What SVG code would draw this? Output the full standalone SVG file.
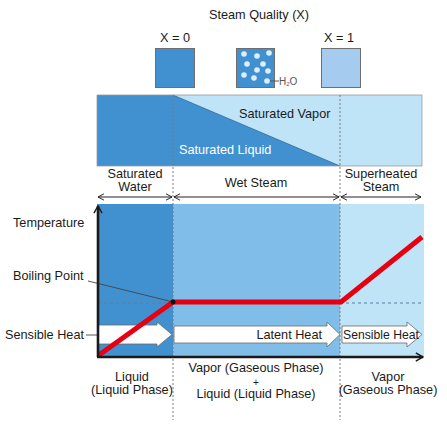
<svg xmlns="http://www.w3.org/2000/svg" width="447" height="425" viewBox="0 0 447 425">
<style>
text{font-family:"Liberation Sans",Arial,sans-serif;font-size:12.7px;fill:#1a1a1a}
.c{text-anchor:middle}
.dark{fill:#4191d1}
.mid{fill:#80bee9}
.light{fill:#bfe4f8}
.sq{stroke:#6e6e6e;stroke-width:1}
.div{stroke:#7a7a7a;stroke-width:1;stroke-dasharray:2,2;fill:none}
.hd{stroke:#5a7fa0;stroke-width:1;stroke-dasharray:3,3;fill:none}
.dim{stroke:#222;stroke-width:1.2;fill:none;marker-start:url(#chev);marker-end:url(#chev)}
.ax{stroke:#1a1a1a;stroke-width:2.6;fill:none}
.harrow{fill:#fff;stroke:#6a6a6a;stroke-width:0.8}
.lead{stroke:#444;stroke-width:0.9;fill:none}
.dot{fill:#dcefff}
</style>
<defs>
<marker id="chev" viewBox="0 0 10 10" refX="9.5" refY="5" markerWidth="7" markerHeight="10" markerUnits="userSpaceOnUse" orient="auto-start-reverse">
<path d="M1,0.5 L9.5,5 L1,9.5" fill="none" stroke="#222" stroke-width="1.4"/>
</marker>
<marker id="axhead" viewBox="0 0 10 10" refX="9" refY="5" markerWidth="9" markerHeight="11" markerUnits="userSpaceOnUse" orient="auto">
<path d="M1,0.5 L9,5 L1,9.5" fill="none" stroke="#1a1a1a" stroke-width="1.6"/>
</marker>
</defs>

<g id="title"><text class="c" x="259" y="19">Steam Quality (X)</text></g>

<g id="quality-x0">
<text class="c" x="175" y="42">X = 0</text>
<rect class="dark sq" x="155.5" y="48.5" width="39" height="39"/>
</g>
<g id="quality-mix">
<rect class="dark sq" x="236.5" y="48.5" width="38" height="39"/>
<circle class="dot" cx="244" cy="54" r="2.8"/>
<circle class="dot" cx="257" cy="56" r="2.8"/>
<circle class="dot" cx="269" cy="53" r="2.8"/>
<circle class="dot" cx="247" cy="64" r="2.8"/>
<circle class="dot" cx="263" cy="64" r="2.8"/>
<circle class="dot" cx="257" cy="70" r="2.8"/>
<circle class="dot" cx="268" cy="71" r="2.8"/>
<circle class="dot" cx="244" cy="75" r="2.8"/>
<circle class="dot" cx="254" cy="78" r="2.8"/>
<circle class="dot" cx="267" cy="81" r="2.8"/>
<path d="M270,81 H279" stroke="#555" stroke-width="1"/>
<text x="279" y="85" style="font-size:10px;fill:#555">H<tspan style="font-size:6px" dy="1">2</tspan><tspan dy="-1">O</tspan></text>
</g>
<g id="quality-x1">
<text class="c" x="339" y="42">X = 1</text>
<rect class="sq" x="321.5" y="48.5" width="39" height="39" fill="#a5ccef"/>
</g>

<g id="phase-band">
<rect class="light" x="97" y="95" width="325" height="71"/>
<rect class="dark" x="97" y="95" width="76" height="71"/>
<path class="dark" d="M173,95 L340,166 L173,166 Z"/>
<path d="M173,95 L340,166" stroke="#2f5f8a" stroke-width="0.7" fill="none"/>
<rect x="97" y="95" width="325" height="71" fill="none" stroke="#999" stroke-width="0.8"/>
<text x="239" y="118">Saturated Vapor</text>
<text x="179" y="154" style="fill:#fff">Saturated Liquid</text>
</g>

<g id="chart-regions">
<rect class="dark" x="97" y="204" width="76" height="153"/>
<rect class="mid" x="173" y="204" width="167" height="153"/>
<rect class="light" x="340" y="204" width="84" height="153"/>
</g>

<g id="dividers">
<path class="div" d="M173,95 V420"/>
<path class="div" d="M340,95 V420"/>
<path class="hd" d="M98,303 H173"/>
<path class="hd" d="M340,303 H424"/>
</g>

<g id="range-labels">
<text class="c" x="135" y="178">Saturated</text>
<text class="c" x="135" y="191">Water</text>
<text class="c" x="256" y="187">Wet Steam</text>
<text class="c" x="381" y="178">Superheated</text>
<text class="c" x="381" y="191">Steam</text>
</g>

<g id="connectors">
<path class="dim" d="M98,197 H172"/>
<path class="dim" d="M174,197 H339"/>
<path class="dim" d="M341,197 H421"/>
<path class="lead" d="M88,281 L173,302"/>
<path class="lead" d="M86,335 H98"/>
</g>

<g id="heat-arrows">
<path id="sensible-1" class="harrow" d="M98,325 H157 V322 L172,334.5 L157,347 V344 H98 Z"/>
<path id="latent" class="harrow" d="M174,326 H327 V322 L340,334.5 L327,347 V343 H174 Z"/>
<path id="sensible-2" class="harrow" d="M342,326 H407 V322 L422,334.5 L407,347 V343 H342 Z"/>
<text x="322" y="339" style="text-anchor:end">Latent Heat</text>
<text x="343" y="339" style="font-size:12.2px">Sensible Heat</text>
</g>

<g id="temperature-line">
<path d="M99,355 L173,302 H341 L422,237" stroke="#e60012" stroke-width="5" fill="none" stroke-linejoin="miter"/>
<circle cx="173" cy="302" r="2.5" fill="#111"/>
</g>

<g id="axes">
<path class="ax" d="M98,357 V206" marker-end="url(#axhead)"/>
<path class="ax" d="M97,357 H423" marker-end="url(#axhead)"/>
</g>

<g id="axis-labels">
<text x="13" y="227">Temperature</text>
<text x="13" y="280">Boiling Point</text>
<text x="5" y="339">Sensible Heat</text>
</g>

<g id="phase-labels">
<text class="c" x="132" y="381">Liquid</text>
<text class="c" x="132" y="394">(Liquid Phase)</text>
<text class="c" x="256" y="372">Vapor (Gaseous Phase)</text>
<text class="c" x="256" y="386" style="font-size:10px">+</text>
<text class="c" x="256" y="398">Liquid (Liquid Phase)</text>
<text class="c" x="388" y="381">Vapor</text>
<text class="c" x="388" y="394">(Gaseous Phase)</text>
</g>
</svg>
